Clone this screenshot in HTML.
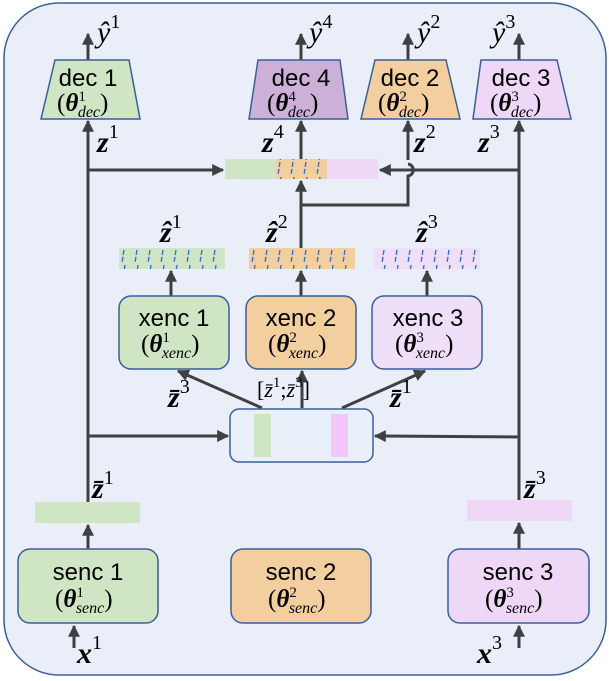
<!DOCTYPE html>
<html><head><meta charset="utf-8"><style>
html,body{margin:0;padding:0;background:#fff;width:609px;height:681px;overflow:hidden}
svg{display:block}
.t{font-family:"Liberation Sans",sans-serif;font-size:24px;fill:#000}
.m{font-family:"Liberation Serif",serif;font-style:italic;fill:#000}
.b{font-weight:bold}
</style></head><body>
<svg width="609" height="681" viewBox="0 0 609 681" xmlns="http://www.w3.org/2000/svg">
<defs>
<marker id="a" viewBox="0 0 10 10" refX="9" refY="5" markerWidth="4" markerHeight="4" orient="auto"><path d="M0,0L10,5L0,10z" fill="#404040"/></marker>
<pattern id="h" width="13" height="22" patternUnits="userSpaceOnUse"><line x1="8" y1="1" x2="5" y2="21" stroke="#3b6fd8" stroke-width="1.4" stroke-dasharray="5,2"/></pattern>
</defs>
<rect x="4" y="3" width="602" height="672" rx="55" fill="#e9eef8" stroke="#3a5f9a" stroke-width="1.5"/>
<g stroke="#404040" stroke-width="3" fill="none">
<line x1="88" y1="60" x2="88" y2="34" marker-end="url(#a)"/>
<line x1="301" y1="60" x2="301" y2="34" marker-end="url(#a)"/>
<line x1="408" y1="60" x2="408" y2="34" marker-end="url(#a)"/>
<line x1="519" y1="60" x2="519" y2="34" marker-end="url(#a)"/>
<line x1="88" y1="502" x2="88" y2="121" marker-end="url(#a)"/>
<line x1="519" y1="500" x2="519" y2="121" marker-end="url(#a)"/>
<line x1="301" y1="159" x2="301" y2="121" marker-end="url(#a)"/>
<path d="M408,160 L408,121" marker-end="url(#a)"/>
<path d="M408,164 C415,165 415,175 408,176 L408,205 L301,205 L301,181" marker-end="url(#a)"/>
<line x1="301" y1="248" x2="301" y2="205"/>
<line x1="88" y1="170" x2="223" y2="170" marker-end="url(#a)"/>
<line x1="519" y1="170" x2="380" y2="170" marker-end="url(#a)"/>
<line x1="171" y1="296" x2="171" y2="271" marker-end="url(#a)"/>
<line x1="301" y1="296" x2="301" y2="271" marker-end="url(#a)"/>
<line x1="427" y1="296" x2="427" y2="271" marker-end="url(#a)"/>
<line x1="262" y1="408" x2="178" y2="371" marker-end="url(#a)"/>
<line x1="302" y1="408" x2="302" y2="371" marker-end="url(#a)"/>
<line x1="342" y1="408" x2="425" y2="371" marker-end="url(#a)"/>
<line x1="88" y1="436" x2="228" y2="436" marker-end="url(#a)"/>
<line x1="519" y1="437" x2="375" y2="436" marker-end="url(#a)"/>
<line x1="88" y1="549" x2="88" y2="525" marker-end="url(#a)"/>
<line x1="519" y1="549" x2="519" y2="523" marker-end="url(#a)"/>
<line x1="74" y1="648" x2="74" y2="626" marker-end="url(#a)"/>
<line x1="519" y1="648" x2="519" y2="626" marker-end="url(#a)"/>
</g>
<g stroke="#3a5f9a" stroke-width="1.5">
<path d="M55,60 L129,60 L140,119 L41,119Z" fill="#cfe5c3"/>
<path d="M258,60 L340,60 L348,119 L249,119Z" fill="#cdb0d8"/>
<path d="M375,60 L446,60 L460,119 L361,119Z" fill="#f3cfa0"/>
<path d="M481,60 L557,60 L571,119 L473,119Z" fill="#efd8f7"/>
<rect x="119" y="296" width="110" height="73" rx="12" fill="#cfe5c3"/>
<rect x="246" y="296" width="110" height="73" rx="12" fill="#f3cfa0"/>
<rect x="372" y="296" width="110" height="73" rx="12" fill="#efdff9"/>
<rect x="230" y="409" width="143" height="53" rx="9" fill="#eaf0f9"/>
<rect x="18" y="549" width="140" height="74" rx="12" fill="#cfe5c3"/>
<rect x="231" y="549" width="140" height="74" rx="12" fill="#f3cfa0"/>
<rect x="448" y="549" width="141" height="74" rx="12" fill="#efd8f7"/>
</g>
<rect x="225" y="159" width="51" height="20" fill="#cfe5c3"/>
<rect x="276" y="159" width="51" height="20" fill="#f3cfa0"/>
<rect x="276" y="159" width="51" height="20" fill="url(#h)"/>
<rect x="327" y="159" width="51" height="20" fill="#efd8f7"/>
<rect x="119" y="248" width="106" height="21" fill="#cfe5c3"/><rect x="119" y="248" width="106" height="21" fill="url(#h)"/>
<rect x="249" y="248" width="106" height="21" fill="#f3cfa0"/><rect x="249" y="248" width="106" height="21" fill="url(#h)"/>
<rect x="374" y="248" width="106" height="21" fill="#efdff9"/><rect x="374" y="248" width="106" height="21" fill="url(#h)"/>
<rect x="254" y="414" width="17" height="43" fill="#cfe5c3"/>
<rect x="331" y="414" width="17" height="43" fill="#f2c6f6"/>
<rect x="35" y="502" width="105" height="21" fill="#cfe5c3"/>
<rect x="467" y="500" width="105" height="21" fill="#efd8f7"/>
<g class="t" text-anchor="middle">
<text x="88" y="86">dec 1</text><text x="301" y="86">dec 4</text><text x="410" y="86">dec 2</text><text x="521" y="86">dec 3</text>
<text x="174" y="326">xenc 1</text><text x="301" y="326">xenc 2</text><text x="428" y="326">xenc 3</text>
<text x="88" y="580">senc 1</text><text x="301" y="580">senc 2</text><text x="518" y="580">senc 3</text>
</g>
<g class="m" font-size="25" transform="translate(7,0)">
<text x="50" y="111"><tspan font-style="normal">(</tspan><tspan class="b">θ</tspan><tspan font-size="15" font-style="normal" dy="-10">1</tspan><tspan font-size="16" dx="-8" dy="16">dec</tspan><tspan font-style="normal" dy="-6">)</tspan></text>
<text x="260" y="111"><tspan font-style="normal">(</tspan><tspan class="b">θ</tspan><tspan font-size="15" font-style="normal" dy="-10">4</tspan><tspan font-size="16" dx="-8" dy="16">dec</tspan><tspan font-style="normal" dy="-6">)</tspan></text>
<text x="371" y="111"><tspan font-style="normal">(</tspan><tspan class="b">θ</tspan><tspan font-size="15" font-style="normal" dy="-10">2</tspan><tspan font-size="16" dx="-8" dy="16">dec</tspan><tspan font-style="normal" dy="-6">)</tspan></text>
<text x="483" y="111"><tspan font-style="normal">(</tspan><tspan class="b">θ</tspan><tspan font-size="15" font-style="normal" dy="-10">3</tspan><tspan font-size="16" dx="-8" dy="16">dec</tspan><tspan font-style="normal" dy="-6">)</tspan></text>
<text x="134" y="352"><tspan font-style="normal">(</tspan><tspan class="b">θ</tspan><tspan font-size="15" font-style="normal" dy="-10">1</tspan><tspan font-size="16" dx="-8" dy="16">xenc</tspan><tspan font-style="normal" dy="-6">)</tspan></text>
<text x="261" y="352"><tspan font-style="normal">(</tspan><tspan class="b">θ</tspan><tspan font-size="15" font-style="normal" dy="-10">2</tspan><tspan font-size="16" dx="-8" dy="16">xenc</tspan><tspan font-style="normal" dy="-6">)</tspan></text>
<text x="388" y="352"><tspan font-style="normal">(</tspan><tspan class="b">θ</tspan><tspan font-size="15" font-style="normal" dy="-10">3</tspan><tspan font-size="16" dx="-8" dy="16">xenc</tspan><tspan font-style="normal" dy="-6">)</tspan></text>
<text x="48" y="607"><tspan font-style="normal">(</tspan><tspan class="b">θ</tspan><tspan font-size="15" font-style="normal" dy="-10">1</tspan><tspan font-size="16" dx="-8" dy="16">senc</tspan><tspan font-style="normal" dy="-6">)</tspan></text>
<text x="261" y="607"><tspan font-style="normal">(</tspan><tspan class="b">θ</tspan><tspan font-size="15" font-style="normal" dy="-10">2</tspan><tspan font-size="16" dx="-8" dy="16">senc</tspan><tspan font-style="normal" dy="-6">)</tspan></text>
<text x="478" y="607"><tspan font-style="normal">(</tspan><tspan class="b">θ</tspan><tspan font-size="15" font-style="normal" dy="-10">3</tspan><tspan font-size="16" dx="-8" dy="16">senc</tspan><tspan font-style="normal" dy="-6">)</tspan></text>
</g>
<g class="m" font-size="30">
<text x="97" y="42">ŷ<tspan font-size="20" font-style="normal" dy="-14">1</tspan></text>
<text x="309" y="42">ŷ<tspan font-size="20" font-style="normal" dy="-14">4</tspan></text>
<text x="417" y="42">ŷ<tspan font-size="20" font-style="normal" dy="-14">2</tspan></text>
<text x="492" y="42">ŷ<tspan font-size="20" font-style="normal" dy="-14">3</tspan></text>
<g class="b">
<text x="97" y="152">z<tspan font-size="20" font-weight="normal" font-style="normal" dy="-14">1</tspan></text>
<text x="262" y="152">z<tspan font-size="20" font-weight="normal" font-style="normal" dy="-14">4</tspan></text>
<text x="414" y="152">z<tspan font-size="20" font-weight="normal" font-style="normal" dy="-14">2</tspan></text>
<text x="478" y="152">z<tspan font-size="20" font-weight="normal" font-style="normal" dy="-14">3</tspan></text>
<text x="160" y="242">ẑ<tspan font-size="20" font-weight="normal" font-style="normal" dy="-14">1</tspan></text>
<text x="266" y="242">ẑ<tspan font-size="20" font-weight="normal" font-style="normal" dy="-14">2</tspan></text>
<text x="416" y="242">ẑ<tspan font-size="20" font-weight="normal" font-style="normal" dy="-14">3</tspan></text>
<text x="168" y="407">z̄<tspan font-size="20" font-weight="normal" font-style="normal" dy="-14">3</tspan></text>
<text x="390" y="407">z̄<tspan font-size="20" font-weight="normal" font-style="normal" dy="-14">1</tspan></text>
<text x="92" y="498">z̄<tspan font-size="20" font-weight="normal" font-style="normal" dy="-14">1</tspan></text>
<text x="524" y="498">z̄<tspan font-size="20" font-weight="normal" font-style="normal" dy="-14">3</tspan></text>
<text x="77" y="663">x<tspan font-size="20" font-weight="normal" font-style="normal" dy="-14">1</tspan></text>
<text x="477" y="663">x<tspan font-size="20" font-weight="normal" font-style="normal" dy="-14">3</tspan></text>
</g>
<text x="257" y="397" font-size="22"><tspan font-style="normal">[</tspan>z̄<tspan font-size="15" font-style="normal" dy="-10">1</tspan><tspan font-style="normal" dy="10">;</tspan>z̄<tspan font-size="15" font-style="normal" dy="-10">3</tspan><tspan font-style="normal" dy="10">]</tspan></text>
</g>
</svg>
</body></html>
